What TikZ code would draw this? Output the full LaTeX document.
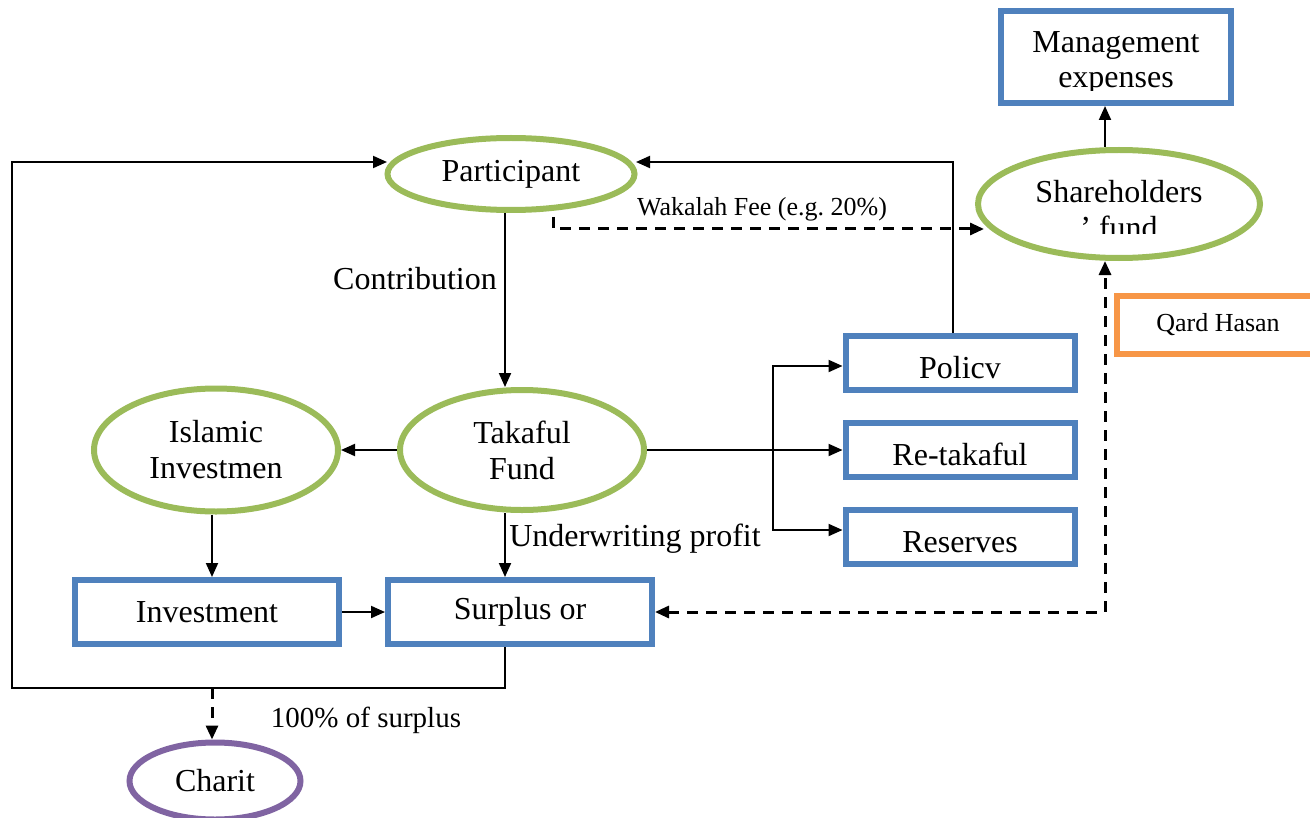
\documentclass[tikz,border=0pt]{standalone}
\usepackage{fontspec}
\setmainfont{Liberation Serif}
\usetikzlibrary{shapes.geometric,arrows.meta}
\definecolor{ovalgreen}{HTML}{9BBB59}
\definecolor{boxblue}{HTML}{4F81BD}
\definecolor{qardorange}{HTML}{F79646}
\definecolor{charpurple}{HTML}{8064A2}
\newcommand\mainfs{\fontsize{16}{18}\selectfont}
\newcommand\smallfs{\fontsize{13}{15}\selectfont}
\begin{document}
\begin{tikzpicture}[x=0.5pt,y=-0.5pt,
  oval/.style={ellipse, draw=ovalgreen, line width=3pt, inner sep=0pt, align=center, font=\mainfs},
  box/.style={rectangle, draw=boxblue, line width=3pt, inner sep=0pt, align=center, font=\mainfs},
  rbox/.style={box, minimum width=114.5pt, minimum height=27pt, text height=15pt, text depth=0pt},
  lbl/.style={inner sep=0pt, anchor=base, font=\mainfs},
  arr/.style={line width=1pt, -{Triangle[length=7pt,width=6pt]}},
  darr/.style={arr, line width=1.5pt, dash pattern=on 5.5pt off 4pt},
]
\useasboundingbox (0,0) rectangle (1310,818);

% ---- shareholders side
\node[box, minimum width=115pt, minimum height=46pt] (mgmt) at (1116,57) {};
\begin{scope}
  \clip (1000,10) rectangle (1232,91);
  \node[lbl] (mgmt1) at (1116,53) {Management};
  \node[lbl] (mgmt2) at (1116,88) {expenses};
\end{scope}
\node[oval, minimum width=141pt, minimum height=54pt] (share) at (1119,204) {};
\begin{scope}
  \clip (978,150) rectangle (1260,233);
  \node[lbl] (share1) at (1119,203) {Shareholders};
  \node[lbl] (share2) at (1119,239) {’ fund};
\end{scope}
\node[box, draw=qardorange, minimum width=101.5pt, minimum height=29pt, font=\smallfs] (qard) at (1218,325) {Qard Hasan};

% ---- main flow
\node[oval, minimum width=123.5pt, minimum height=36pt] (part) at (511,174) {Participant};
\node[oval, minimum width=122pt, minimum height=60pt] (tak) at (522,450) {Takaful\\Fund};
\node[oval, minimum width=122pt, minimum height=61.5pt] (isl) at (216,450) {Islamic\\Investmen};
\node[rbox] (pol) at (960,363) {Policv};
\node[rbox] (ret) at (960,450) {Re-takaful};
\node[rbox] (res) at (960,537) {Reserves};
\node[box, minimum width=132pt, minimum height=32pt] (inv) at (207,612) {Investment};
\node[box, minimum width=132pt, minimum height=32pt] (sur) at (520,612) {Surplus or};
\node[oval, draw=charpurple, minimum width=85.5pt, minimum height=38.5pt] (char) at (215,781) {Charit};

% ---- connector labels
\node[lbl] (lcon) at (415,289) {Contribution};
\node[lbl, font=\smallfs] (lwak) at (762,216) {Wakalah Fee (e.g.\ 20\%)};
\node[lbl] (lund) at (635,546) {Underwriting profit};
\node[lbl, font=\fontsize{14.5}{16}\selectfont] (lsur) at (366,727) {100\% of surplus};

% ---- helper points on the loops
\coordinate (loopbr) at (505,688);
\coordinate (loopbl) at (12,688);
\coordinate (looptl) at (12,162);
\coordinate (partin) at (387,162);
\coordinate (partout) at (636,162);
\coordinate (wakstart) at (553,217);
\coordinate (wakend) at (984,229);
\coordinate (branch) at (773,448);
\coordinate (qardcorner) at (1105,612);

% ---- connectors
\draw[arr] (505,0 |- part.south) -- (505,0 |- tak.north);
\draw[darr] (wakstart) -- (553,229) -- (wakend);
\draw[arr] (953,0 |- pol.north) -- (953,162) -- (partout);
\draw[arr] (505,0 |- sur.south) -- (loopbr) -- (loopbl) -- (looptl) -- (partin);
\draw[arr] (tak.west) -- (isl.east);
\draw[arr] (tak.east) -- (ret.west);
\draw[arr] (branch) |- (pol.west |- 0,366);
\draw[arr] (branch) |- (res.west |- 0,530);
\draw[arr] (212,0 |- isl.south) -- (212,0 |- inv.north);
\draw[arr] (inv.east) -- (sur.west);
\draw[arr] (505,0 |- tak.south) -- (505,0 |- sur.north);
\draw[darr, {Triangle[length=7pt,width=6pt]}-{Triangle[length=7pt,width=6pt]}] (sur.east) -- (qardcorner) -- (1105,0 |- share.south);
\draw[arr] (1105,0 |- share.north) -- (1105,0 |- mgmt.south);
\draw[darr] (212,0 |- loopbl) -- (212,0 |- char.north);
\end{tikzpicture}
\end{document}
